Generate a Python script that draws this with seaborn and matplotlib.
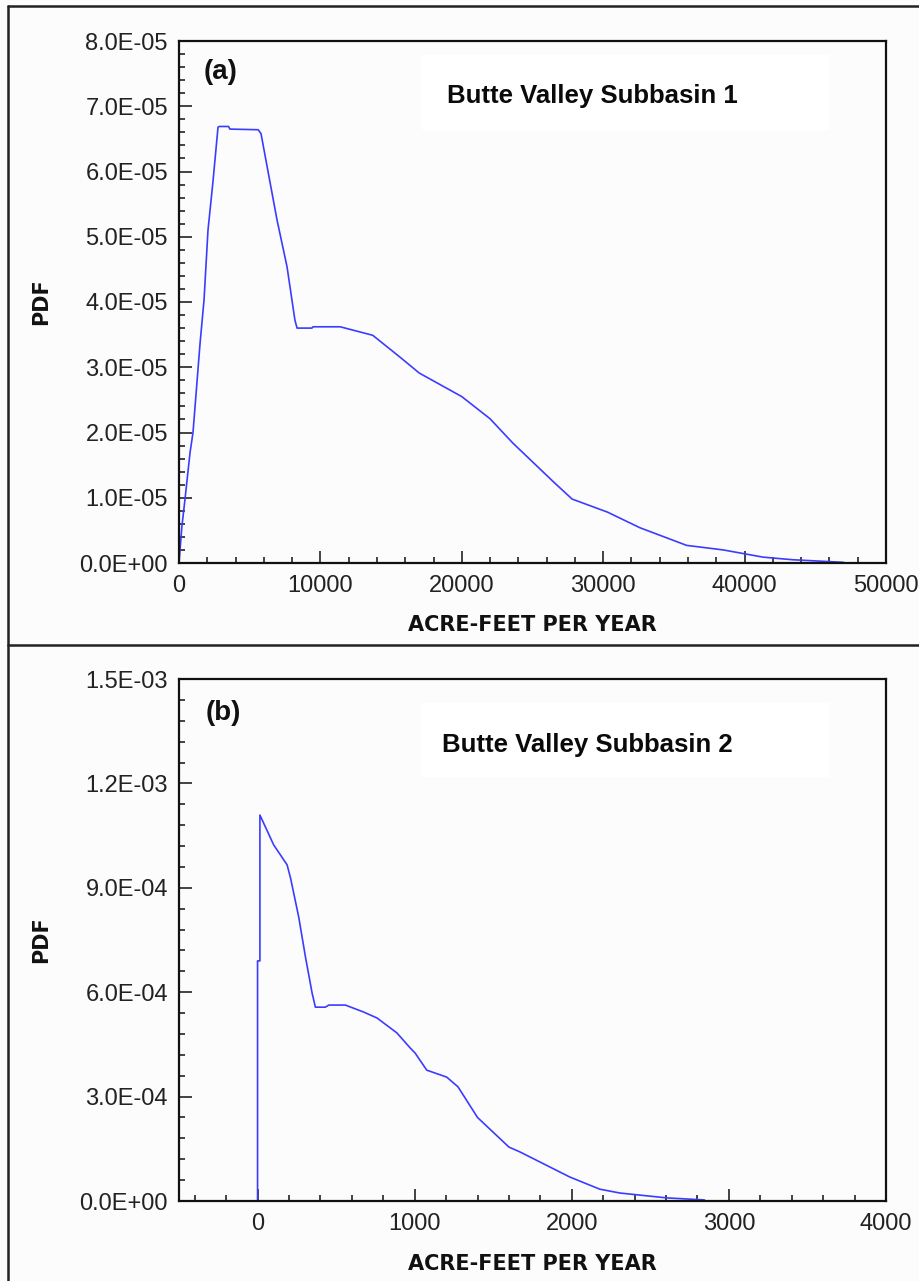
import matplotlib
matplotlib.use("Agg")
import matplotlib.pyplot as plt
from matplotlib.lines import Line2D
from matplotlib.patches import Rectangle
from matplotlib.ticker import MultipleLocator, FuncFormatter
import numpy as np
import pandas as pd
import seaborn as sns

# Subbasin 1 probability density (acre-feet per year vs PDF)
flow_1 = [0, 200, 420, 780, 990, 1490, 1770, 2050, 2400, 2760, 2850, 3500, 3600,
          5600, 5800, 6930, 7640, 8200, 8350, 9400, 9480, 11400, 13700, 15600,
          17000, 18500, 20000, 22000, 23600, 26500, 27800, 30300, 32600, 35900,
          38500, 41300, 43400, 47000]
pdf_1 = [0, 0.55e-5, 0.97e-5, 1.69e-5, 2.0e-5, 3.37e-5, 4.03e-5, 5.1e-5, 5.84e-5,
         6.68e-5, 6.69e-5, 6.69e-5, 6.65e-5, 6.64e-5, 6.58e-5, 5.26e-5, 4.54e-5,
         3.72e-5, 3.6e-5, 3.6e-5, 3.62e-5, 3.62e-5, 3.49e-5, 3.16e-5, 2.91e-5,
         2.73e-5, 2.55e-5, 2.21e-5, 1.84e-5, 1.24e-5, 0.98e-5, 0.78e-5, 0.54e-5,
         0.27e-5, 0.2e-5, 0.09e-5, 0.05e-5, 0.01e-5]

# Subbasin 2 probability density
flow_2 = [0, 0, 15, 15, 103, 188, 210, 262, 305, 347, 368, 432, 453, 559, 675,
          760, 887, 971, 1003, 1077, 1204, 1276, 1400, 1600, 1670, 1987, 2178,
          2305, 2432, 2603, 2845]
pdf_2 = [0, 6.9e-4, 6.9e-4, 11.09e-4, 10.23e-4, 9.66e-4, 9.28e-4, 8.16e-4,
         7.01e-4, 5.98e-4, 5.57e-4, 5.57e-4, 5.63e-4, 5.63e-4, 5.43e-4, 5.26e-4,
         4.83e-4, 4.4e-4, 4.25e-4, 3.76e-4, 3.56e-4, 3.28e-4, 2.4e-4, 1.55e-4,
         1.41e-4, 0.69e-4, 0.34e-4, 0.23e-4, 0.17e-4, 0.09e-4, 0.03e-4]

panel_tags = ["(a)", "(b)"]
panel_titles = ["Butte Valley Subbasin 1", "Butte Valley Subbasin 2"]
x_label = "ACRE-FEET PER YEAR"
y_label = "PDF"

sns.set_style("ticks")
plt.rcParams["font.family"] = ["Liberation Sans", "DejaVu Sans"]

BG = "#fcfcfc"
LINE = "#3c3cff"
W, H = 920, 1281
fig = plt.figure(figsize=(W / 100, H / 100), dpi=100, facecolor=BG)


def fx(px):
    return px / W


def fy(py):
    return 1 - py / H


ax_left, ax_right = 179, 886
boxes = [(41, 563), (679, 1201)]

axes = []
for top, bot in boxes:
    ax = fig.add_axes([fx(ax_left), fy(bot), fx(ax_right - ax_left), (bot - top) / H])
    ax.set_facecolor(BG)
    axes.append(ax)

# series tables
df1 = pd.DataFrame({"flow": flow_1, "pdf": pdf_1})
df2 = pd.DataFrame({"flow": flow_2, "pdf": pdf_2})

sns.lineplot(data=df1, x="flow", y="pdf", ax=axes[0], color=LINE, lw=1.2,
             sort=False, estimator=None)
sns.lineplot(data=df2, x="flow", y="pdf", ax=axes[1], color=LINE, lw=1.2,
             sort=False, estimator=None)

axes[0].set_xlim(0, 50000)
axes[0].set_ylim(0, 8e-5)
axes[0].xaxis.set_major_locator(MultipleLocator(10000))
axes[0].xaxis.set_minor_locator(MultipleLocator(2000))
axes[0].yaxis.set_major_locator(MultipleLocator(1e-5))
axes[0].yaxis.set_minor_locator(MultipleLocator(2e-6))

axes[1].set_xlim(-500, 4000)
axes[1].set_ylim(0, 1.5e-3)
axes[1].xaxis.set_major_locator(MultipleLocator(1000))
axes[1].xaxis.set_minor_locator(MultipleLocator(200))
axes[1].yaxis.set_major_locator(MultipleLocator(3e-4))
axes[1].yaxis.set_minor_locator(MultipleLocator(6e-5))

sci = FuncFormatter(lambda v, p: f"{v:.1E}")
plain = FuncFormatter(lambda v, p: f"{v:.0f}")

label_y = [-0.119, -0.121]
text_pos = [((0.059, 0.941), (0.584, 0.895), (0.973, 0.8295)),
            ((0.062, 0.935), (0.578, 0.874), (0.954, 0.812))]

for i, ax in enumerate(axes):
    ax.yaxis.set_major_formatter(sci)
    ax.xaxis.set_major_formatter(plain)
    ax.tick_params(which="major", direction="in", length=9, width=1.1,
                   color="#111111", labelsize=17, labelcolor="#222222", pad=9)
    ax.tick_params(which="minor", direction="in", length=4.5, width=1.1,
                   color="#111111")
    ax.tick_params(axis="y", which="major", pad=8)
    for s in ax.spines.values():
        s.set_visible(True)
        s.set_linewidth(1.6)
        s.set_color("#111111")
    ax.set_xlabel(x_label, family="DejaVu Sans", fontweight="bold", fontsize=15,
                  color="#111111", va="center")
    ax.set_ylabel(y_label, family="DejaVu Sans", fontweight="bold", fontsize=15,
                  color="#111111", va="center")
    ax.xaxis.set_label_coords(0.5, label_y[i])
    ax.yaxis.set_label_coords(-0.195, 0.5)

    (tx, ty), (sx, sy), (btop, bbot) = text_pos[i]
    ax.add_patch(Rectangle((0.344, bbot), 0.921 - 0.344, btop - bbot,
                           transform=ax.transAxes, facecolor="white",
                           edgecolor="none", zorder=0.5))
    ax.text(tx, ty, panel_tags[i], transform=ax.transAxes, ha="center",
            va="center", fontsize=20, fontweight="bold",
            family="Liberation Sans", color="#111111")
    ax.text(sx, sy, panel_titles[i], transform=ax.transAxes, ha="center",
            va="center", fontsize=18.5, fontweight="bold",
            family="Liberation Sans", color="#0a0a0a")

# outer frame around the two panels
frame = dict(color="#222222", lw=1.8, transform=fig.transFigure)
fig.add_artist(Line2D([fx(8), fx(8)], [fy(6), 0], **frame))
fig.add_artist(Line2D([fx(8), 1], [fy(6), fy(6)], **frame))
fig.add_artist(Line2D([fx(8), 1], [fy(645), fy(645)], **frame))

fig.savefig("out.png", dpi=100, facecolor=BG)
